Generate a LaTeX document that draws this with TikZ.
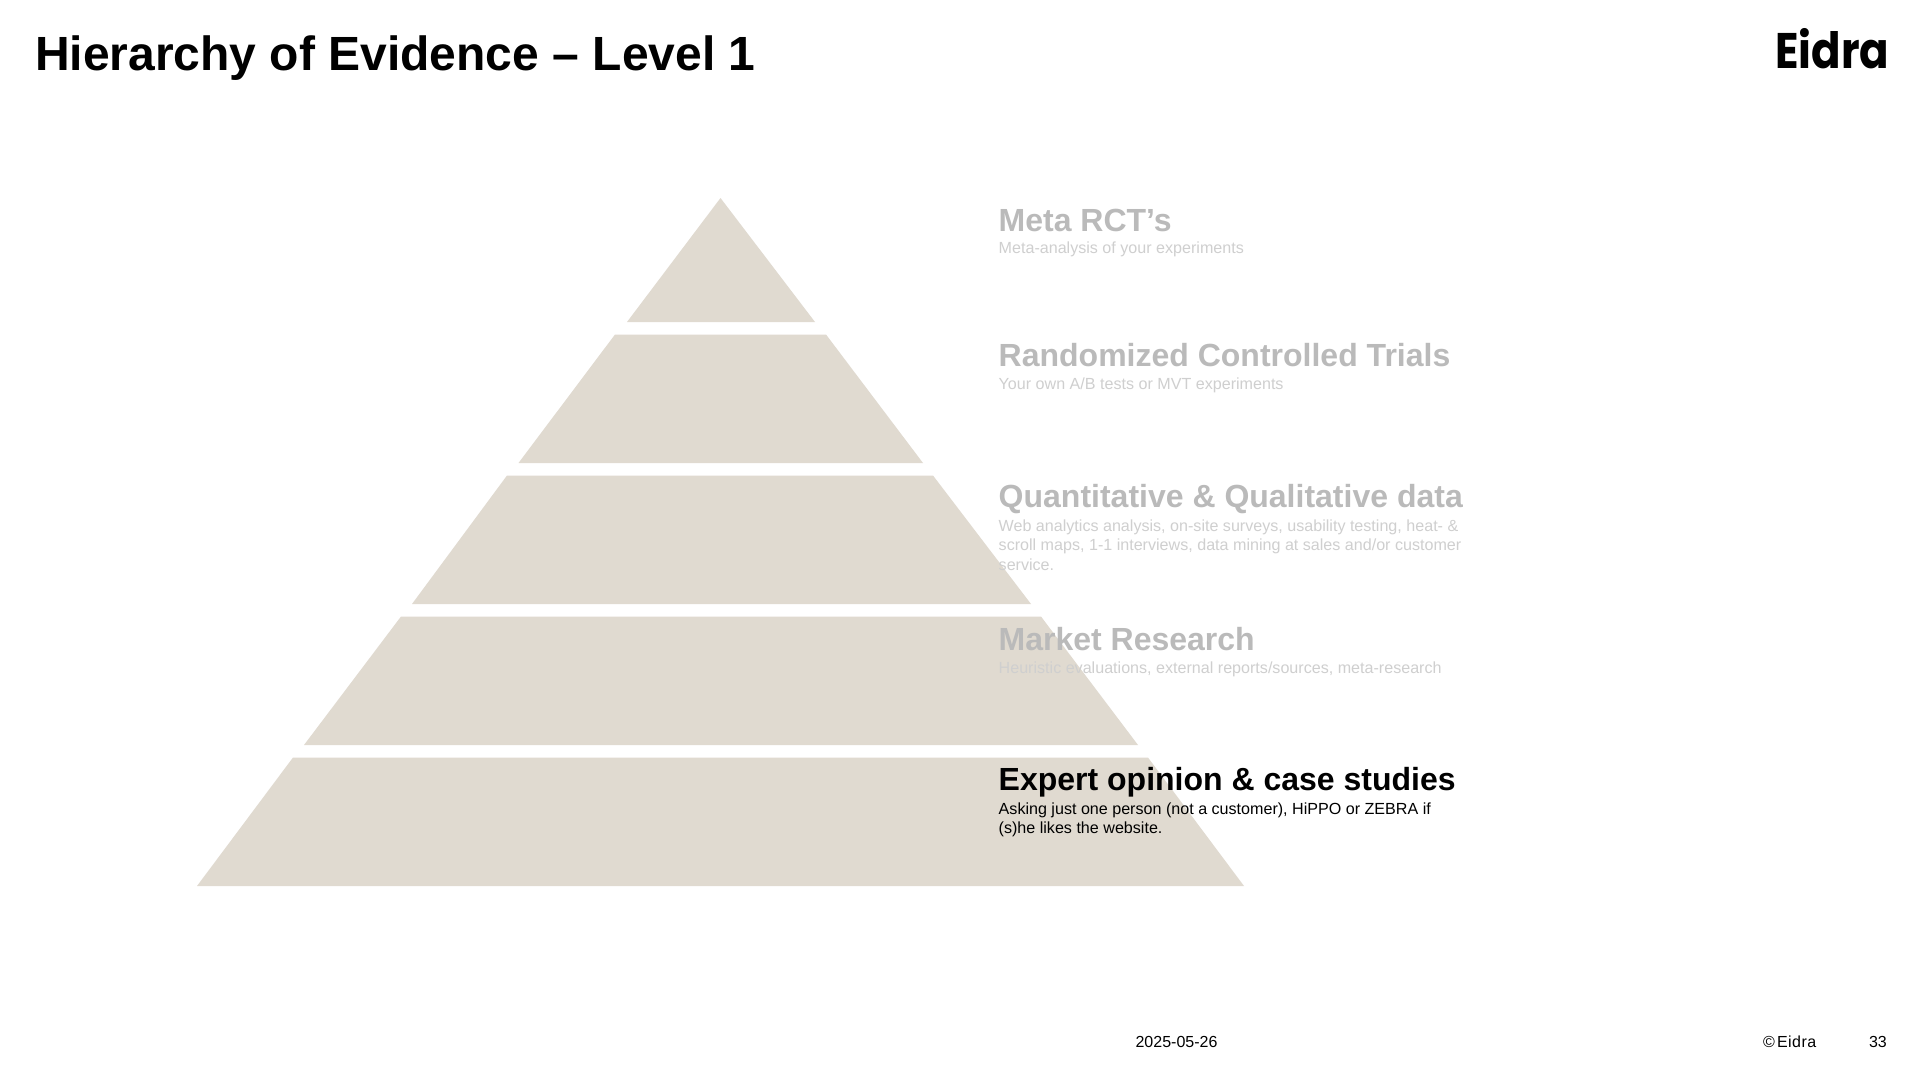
\documentclass[tikz,border=0pt]{standalone}
\usepackage{fontspec}
\setmainfont{Liberation Sans}
\newfontfamily\logofont{Poppins}
\definecolor{pyr}{HTML}{E0DAD0}
\definecolor{headgray}{HTML}{BABABA}
\definecolor{descgray}{HTML}{CFCFCF}
\newcommand{\fs}[1]{\fontsize{#1}{#1}\selectfont}
\tikzset{
  tier/.style={fill=pyr,draw=none},
  head/.style={anchor=base west,inner sep=0pt,font=\fs{32}\bfseries,text=headgray},
  desc/.style={anchor=base west,inner sep=0pt,font=\fs{16.1}\selectfont,text=descgray,align=left},
  foot/.style={anchor=base,inner sep=0pt,font=\fs{16}\selectfont,text=black}
}
\begin{document}
\begin{tikzpicture}[x=1pt,y=-1pt]
\useasboundingbox[fill=white] (0,0) rectangle (1920,1080);
\fill[tier] (720.5,198) -- (815,322) -- (627,322) -- cycle;
\fill[tier] (615,334.5) -- (826,334.5) -- (923,463) -- (518.5,463) -- cycle;
\fill[tier] (507,475.5) -- (933,475.5) -- (1031,604) -- (412,604) -- cycle;
\fill[tier] (401,616.5) -- (1041,616.5) -- (1138,745) -- (304,745) -- cycle;
\fill[tier] (293,757.5) -- (1148,757.5) -- (1244,886) -- (197,886) -- cycle;
\node[anchor=base west,inner sep=0pt,font=\fs{48}\bfseries] (title) at (35,70) {Hierarchy of Evidence – Level 1};
\node[anchor=base west,inner sep=0pt,xscale=.87,font=\fs{50}\logofont\bfseries] (logo) at (1775,68) {Eidra};
\node[head] (h1) at (998.5,231) {Meta RCT’s};
\node[desc] (d1) at (998.5,253) {Meta-analysis of your experiments};
\node[head] (h2) at (998.5,366) {Randomized Controlled Trials};
\node[desc] (d2) at (998.5,389) {Your own A/B tests or MVT experiments};
\node[head] (h3) at (998.5,507) {Quantitative \& Qualitative data};
\node[desc] (d3a) at (998.5,531) {Web analytics analysis, on-site surveys, usability testing, heat- \&};
\node[desc] (d3b) at (998.5,550.5) {scroll maps, 1-1 interviews, data mining at sales and/or customer};
\node[desc] (d3c) at (998.5,570) {service.};
\node[head] (h4) at (998.5,650) {Market Research};
\node[desc] (d4) at (998.5,673) {Heuristic evaluations, external reports/sources, meta-research};
\node[head,text=black] (h5) at (998.5,790) {Expert opinion \& case studies};
\node[desc,text=black] (d5a) at (998.5,814) {Asking just one person (not a customer), HiPPO or ZEBRA if};
\node[desc,text=black] (d5b) at (998.5,833) {(s)he likes the website.};
\node[foot] (date) at (1176.5,1047) {2025-05-26};
\node[foot,anchor=base west] (copy) at (1763,1047) {©\hspace{2pt}E\hspace{.5pt}i\hspace{.5pt}d\hspace{.5pt}r\hspace{.5pt}a};
\node[foot,anchor=base east] (page) at (1887,1047) {33};
\end{tikzpicture}
\end{document}
